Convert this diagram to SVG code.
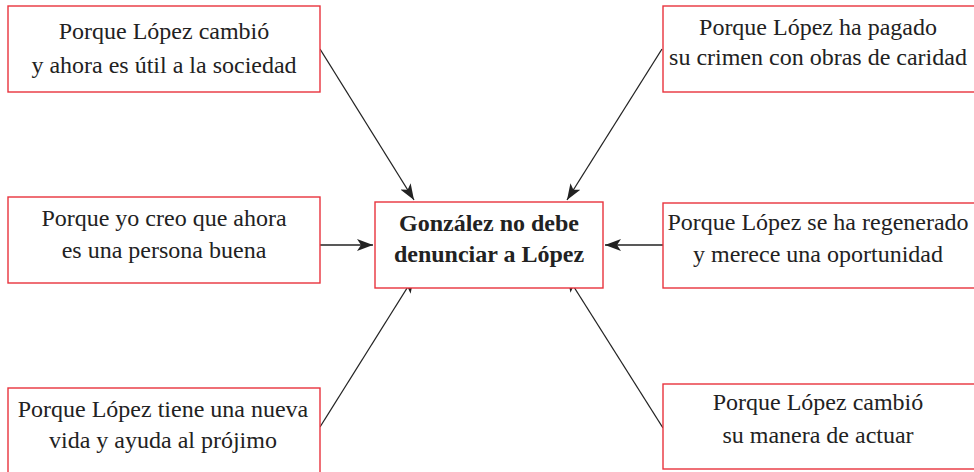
<svg xmlns="http://www.w3.org/2000/svg" width="974" height="472" viewBox="0 0 974 472">
<style>
.box{fill:#fff;stroke:#e8333d;stroke-width:1.4}
text{font-family:'Liberation Serif','Times New Roman',Times,serif;font-size:24px;fill:#222;text-anchor:middle}
.b{font-weight:bold}
.c{stroke:#222;stroke-width:1.3;fill:none;marker-end:url(#ah)}
</style>
<defs>
<marker id="ah" viewBox="0 0 16 12" refX="16" refY="6" markerWidth="16" markerHeight="12" markerUnits="userSpaceOnUse" orient="auto">
<path d="M0,0 L16,6 L0,12 L4,6 Z" fill="#222"/>
</marker>
</defs>
<rect width="974" height="472" fill="#fff"/>
<g id="connectors">
<line class="c" x1="320" y1="49" x2="414" y2="200"/>
<line class="c" x1="662" y1="49" x2="567" y2="200"/>
<line class="c" x1="320" y1="245" x2="373" y2="245"/>
<line class="c" x1="663" y1="245" x2="605" y2="245"/>
<line class="c" x1="320" y1="427" x2="414" y2="277"/>
<line class="c" x1="663" y1="428" x2="567" y2="276"/>
</g>
<g id="center" font-family="Liberation Serif">
<rect class="box" x="375" y="202" width="228" height="86"/>
<text class="b" x="489" y="231">González no debe</text>
<text class="b" x="489" y="262">denunciar a López</text>
</g>
<g id="n1" font-family="Liberation Serif">
<rect class="box" x="8" y="6" width="312" height="86"/>
<text x="164" y="39">Porque López cambió</text>
<text x="164" y="73">y ahora es útil a la sociedad</text>
</g>
<g id="n2" font-family="Liberation Serif">
<rect class="box" x="663" y="6" width="312" height="86"/>
<text x="818" y="35">Porque López ha pagado</text>
<text x="818" y="65">su crimen con obras de caridad</text>
</g>
<g id="n3" font-family="Liberation Serif">
<rect class="box" x="8" y="197" width="312" height="86"/>
<text x="164" y="226">Porque yo creo que ahora</text>
<text x="164" y="258">es una persona buena</text>
</g>
<g id="n4" font-family="Liberation Serif">
<rect class="box" x="663" y="203" width="312" height="85"/>
<text x="818" y="230">Porque López se ha regenerado</text>
<text x="818" y="262">y merece una oportunidad</text>
</g>
<g id="n5" font-family="Liberation Serif">
<rect class="box" x="8" y="388" width="312" height="90"/>
<text x="163" y="417">Porque López tiene una nueva</text>
<text x="163" y="448">vida y ayuda al prójimo</text>
</g>
<g id="n6" font-family="Liberation Serif">
<rect class="box" x="663" y="384" width="312" height="85"/>
<text x="818" y="410">Porque López cambió</text>
<text x="818" y="443">su manera de actuar</text>
</g>
</svg>
